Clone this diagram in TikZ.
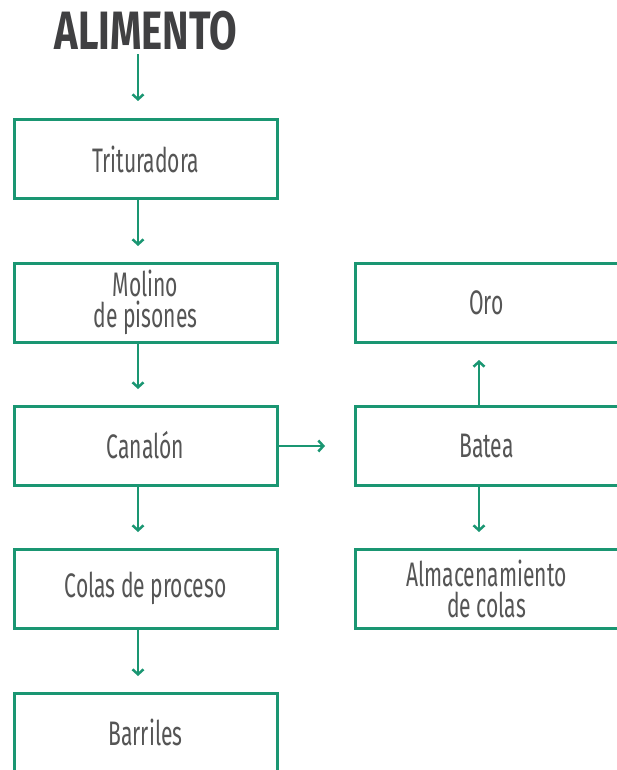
\documentclass[tikz,border=0pt]{standalone}
\usepackage{fontspec}
\setmainfont{Fira Sans}[FakeStretch=0.62]
\newfontfamily\titlefont{Fira Sans}[FakeStretch=0.74]
\usetikzlibrary{arrows.meta}
\definecolor{flowgreen}{HTML}{1A9672}
\definecolor{txtgrey}{HTML}{555555}
\definecolor{titlegrey}{HTML}{404042}
\begin{document}
\begin{tikzpicture}[x=1pt,y=-1pt,
  box/.style={draw=flowgreen,line width=3pt,minimum width=263pt,minimum height=79pt,inner sep=0pt,
    text=txtgrey,font=\fontsize{34}{31}\selectfont,align=center},
  flow/.style={draw=flowgreen,line width=2.5pt,-{Straight Barb[length=5pt,width=11pt,line width=2.5pt]}}]
\useasboundingbox (0,0) rectangle (616,770);
\node[font=\titlefont\bfseries\fontsize{54}{56}\selectfont,text=titlegrey] (title) at (146,31) {ALIMENTO};
\node[box] (t1) at (145.5,159) {Trituradora};
\node[box] (t2) at (145.5,302.5) {Molino\\de pisones};
\node[box] (t3) at (145.5,445.5) {Canalón};
\node[box] (t4) at (145.5,588.5) {Colas de proceso};
\node[box] (t5) at (145.5,732.5) {Barriles};
\node[box] (r1) at (486.5,302.5) {Oro};
\node[box] (r2) at (486.5,445.5) {Batea};
\node[box] (r3) at (486.5,588.5) {Almacenamiento\\de colas};
\coordinate (a0) at (138,101);
\coordinate (a1) at (138,246);
\coordinate (a2) at (138,389);
\coordinate (a3) at (138,532);
\coordinate (a4) at (138,676);
\coordinate (b1) at (325,446);
\coordinate (c1) at (479,360);
\coordinate (c2) at (479,532);
\draw[flow] (title.south -| a0) -- (a0);
\draw[flow] (t1.south -| a1) -- (a1);
\draw[flow] (t2.south -| a2) -- (a2);
\draw[flow] (t3.south -| a3) -- (a3);
\draw[flow] (t4.south -| a4) -- (a4);
\draw[flow] (t3.east |- b1) -- (b1);
\draw[flow] (r2.north -| c1) -- (c1);
\draw[flow] (r2.south -| c2) -- (c2);
\end{tikzpicture}
\end{document}
